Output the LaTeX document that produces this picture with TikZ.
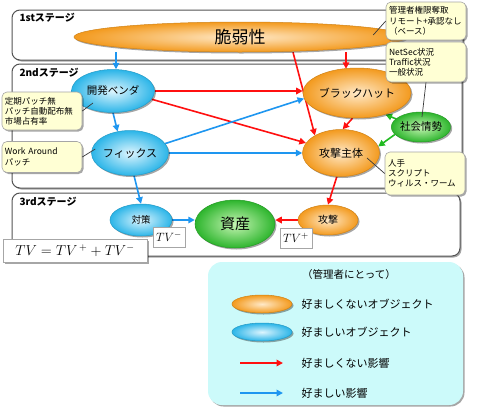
\documentclass[tikz,border=0pt]{standalone}
\usepackage{fontspec}
\setmainfont{Noto Sans CJK JP}
\usetikzlibrary{shapes.geometric,shadows,arrows.meta,calc}
\definecolor{orgO}{HTML}{F39A1E}
\definecolor{orgI}{HTML}{FFE9C8}
\definecolor{bluO}{HTML}{2BB5E8}
\definecolor{bluI}{HTML}{DDF5FE}
\definecolor{grnO}{HTML}{2DB52D}
\definecolor{grnI}{HTML}{C6F5B4}
\definecolor{redA}{HTML}{FF1010}
\definecolor{bluA}{HTML}{1E96F0}
\definecolor{grnA}{HTML}{22BB22}
\definecolor{noteF}{HTML}{FFFFD4}
\definecolor{legF}{HTML}{CCFAFA}
\pgfdeclarelayer{back}
\pgfdeclarelayer{edges}
\pgfsetlayers{back,edges,main}
\tikzset{
  shad/.style={drop shadow={shadow xshift=1.5pt,shadow yshift=-1.5pt,opacity=0.35,fill=black}},
  ell/.style={ellipse, inner sep=0pt, shad},
  orangeobj/.style={ell, draw=orgO!85!black, line width=0.5pt, inner color=orgI, outer color=orgO},
  blueobj/.style={ell, draw=bluO!85!black, line width=0.5pt, inner color=bluI, outer color=bluO},
  greenobj/.style={ell, draw=grnO!85!black, line width=0.5pt, inner color=grnI, outer color=grnO},
  stagebox/.style={draw=gray!65!black, line width=1pt, rounded corners=8pt, fill=white, shad, inner sep=0pt},
  stagelbl/.style={anchor=west, font=\fontsize{10}{12}\selectfont\bfseries},
  note/.style={draw=gray!70, line width=0.6pt, fill=noteF, rounded corners=5pt, shad, align=left,
    font=\fontsize{8.5}{10.2}\selectfont, inner sep=3pt, text width=74pt},
  pointer/.style={draw=gray!45!black, line width=0.7pt},
  redarrow/.style={draw=redA, line width=1.6pt, -{Triangle[length=6.5pt,width=6.5pt]}},
  bluearrow/.style={draw=bluA, line width=1.6pt, -{Triangle[length=6.5pt,width=6.5pt]}},
  greenarrow/.style={draw=grnA, line width=1.6pt, -{Triangle[length=6.5pt,width=6.5pt]}},
  tvbox/.style={draw=gray!70, line width=0.6pt, fill=white, inner sep=1pt, minimum width=32pt, minimum height=20pt, font=\fontsize{13}{14}\selectfont},
  legtext/.style={anchor=west, font=\fontsize{11}{13}\selectfont},
}
\begin{document}
\begin{tikzpicture}[x=1pt,y=-1pt]
\useasboundingbox (0,0) rectangle (480,410);

% stage boxes
\begin{pgfonlayer}{back}
\node[stagebox, minimum width=451pt, minimum height=50pt] (stage1) at (237.5,35) {};
\node[stagebox, minimum width=450pt, minimum height=124pt] (stage2) at (237,126) {};
\node[stagebox, minimum width=448pt, minimum height=63pt] (stage3) at (236,224.5) {};
\node[stagelbl] (lbl1) at (16,18) {1stステージ};
\node[stagelbl] (lbl2) at (16,73) {2ndステージ};
\node[stagelbl] (lbl3) at (16,202) {3rdステージ};
\end{pgfonlayer}

% objects
\node[orangeobj, minimum width=332pt, minimum height=30pt, font=\fontsize{17}{18}\selectfont] (vuln) at (240,37) {脆弱性};
\node[blueobj, minimum width=83pt, minimum height=43pt, font=\fontsize{10.5}{12}\selectfont] (dev) at (113,91) {開発ベンダ};
\node[blueobj, minimum width=75pt, minimum height=45pt, font=\fontsize{11}{12}\selectfont] (fix) at (130,153) {フィックス};
\node[orangeobj, minimum width=83pt, minimum height=50pt, font=\fontsize{11}{12}\selectfont] (bh) at (357,93) {ブラックハット};
\node[orangeobj, minimum width=77pt, minimum height=47pt, font=\fontsize{11}{12}\selectfont] (atk) at (341,153) {攻撃主体};
\node[greenobj, minimum width=52pt, minimum height=30pt, font=\fontsize{10.5}{12}\selectfont] (soc) at (421,127) {社会情勢};
\node[blueobj, minimum width=62pt, minimum height=32pt, font=\fontsize{9.5}{11}\selectfont] (cm) at (141,220) {対策};
\node[greenobj, minimum width=80pt, minimum height=48pt, font=\fontsize{15}{16}\selectfont] (asset) at (235,224) {資産};
\node[orangeobj, minimum width=60pt, minimum height=30pt, font=\fontsize{10}{12}\selectfont] (attack) at (328,220) {攻撃};

% connectors
\begin{pgfonlayer}{edges}
\draw[bluearrow] ($(dev.north |- vuln.south)+(3,0)$) -- ($(dev.north)+(3,0)$);
\draw[redarrow] ($(bh.north |- vuln.south)+(-11,0)$) -- ($(bh.north)+(-11,1)$);
\draw[redarrow] ($(vuln.south)+(53,0)$) -- (atk.146);
\draw[redarrow] (dev.east) -- (dev.east -| bh.west);
\draw[redarrow] (dev.-12) -- (atk.164);
\draw[bluearrow] (dev.south) -- (fix.120);
\draw[bluearrow] (fix.15) -- (bh.186);
\draw[bluearrow] (fix.east) -- (fix.east -| atk.west);
\draw[bluearrow] (fix.-80) -- (cm.north);
\draw[redarrow] (bh.-100) -- (atk.86);
\draw[greenarrow] (soc.162) -- (bh.-37);
\draw[greenarrow] (soc.196) -- (atk.10);
\draw[redarrow] (atk.-100) -- (attack.north);
\draw[bluearrow] (cm.east) -- (cm.east -| asset.west);
\draw[redarrow] (attack.west) -- (attack.west -| asset.east);
\end{pgfonlayer}

% TV boxes and formula
\node[tvbox] (tvm) at (169,237) {$TV^{-}$};
\node[tvbox] (tvp) at (296,238) {$TV^{+}$};
\node[draw=gray!70, line width=0.6pt, fill=white, shad, minimum width=144pt, minimum height=23pt, inner sep=1pt, font=\fontsize{14}{15}\selectfont] (formula) at (75,250.5) {$TV = TV^{\,+} + TV^{-}$};

% callouts
\node[note, minimum height=38pt] (c1) at (426,21) {管理者権限奪取\\リモート+承認なし\\（ベース）};
\node[note, minimum height=40pt] (c2) at (426,62) {NetSec状況\\Traffic状況\\一般状況};
\node[note, minimum height=38pt] (c3) at (42,111) {定期パッチ無\\パッチ自動配布無\\市場占有率};
\node[note, minimum height=31pt] (c4) at (42,157) {Work Around\\パッチ};
\node[note, minimum height=43pt] (c5) at (425,173.5) {人手\\スクリプト\\ウィルス・ワーム};

\draw[pointer] (c1.west) -- ($(vuln.east)+(-33,-2)$);
\draw[pointer] (c2.south) -- ($(soc.center)+(1,-10)$);
\draw[pointer] (c3.east) -- ($(dev.center)+(-20,12)$);
\draw[pointer] (c4.east) -- ($(fix.west)+(4,-4)$);
\draw[pointer] (c5.west) -- ($(atk.center)+(26,5)$);

% legend
\node[fill=legF, rounded corners=14pt, shad, minimum width=255pt, minimum height=143pt, inner sep=0pt] (legend) at (335.5,333.5) {};
\node[font=\fontsize{10.5}{12}\selectfont] (legtitle) at (349,275) {（管理者にとって）};
\node[orangeobj, minimum width=60pt, minimum height=18pt] (legO) at (262,304) {};
\node[blueobj, minimum width=60pt, minimum height=18pt] (legB) at (262,332) {};
\node[legtext] (legOt) at (298,304) {好ましくないオブジェクト};
\node[legtext] (legBt) at (298,332) {好ましいオブジェクト};
\coordinate (lr1) at (240,363);
\coordinate (lr2) at (283,363);
\coordinate (lb1) at (240,393);
\coordinate (lb2) at (283,393);
\draw[redarrow, line width=2pt] (lr1) -- (lr2);
\draw[bluearrow, line width=2pt] (lb1) -- (lb2);
\node[legtext] (legRt) at (298,363) {好ましくない影響};
\node[legtext] (legLt) at (298,393) {好ましい影響};
\end{tikzpicture}
\end{document}
